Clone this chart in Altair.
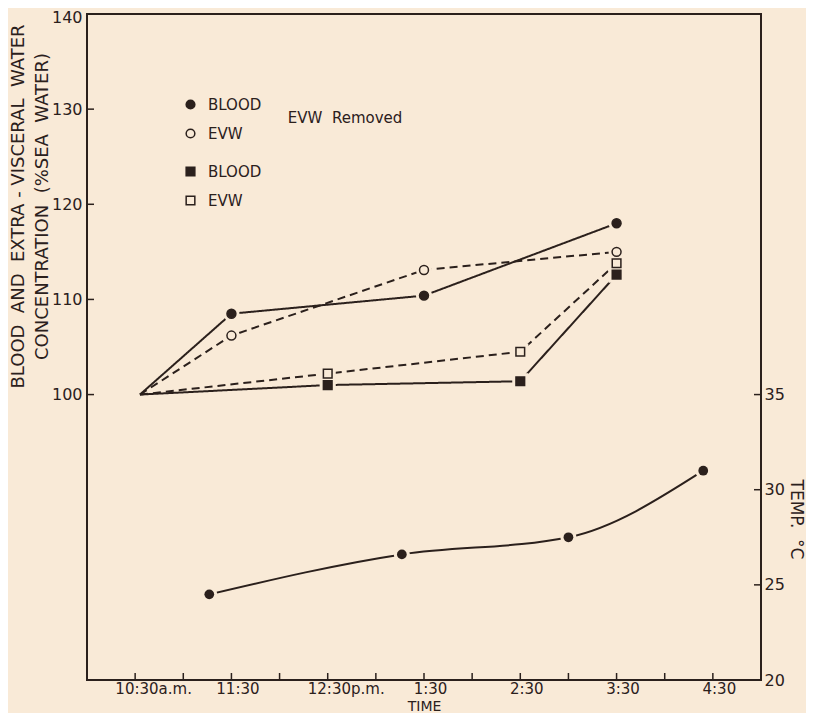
import altair as alt
import pandas as pd

INK = "#2b201c"
BG = "#f9ead7"
FONT = "DejaVu Sans"
SP = " \u00a0"  # widened word gap (plain spaces collapse in SVG)

# ---- data (time in decimal hours, 10.5 = 10:30 a.m.) ----
blood_t = [10.55, 11.5, 13.5, 15.5]
blood_v = [100.0, 108.5, 110.4, 118.0]
evw_t = [10.55, 11.5, 13.5, 15.5]
evw_v = [100.0, 106.2, 113.1, 115.0]
blood_rm_t = [10.55, 12.5, 14.5, 15.5]
blood_rm_v = [100.0, 101.0, 101.4, 112.6]
evw_rm_t = [10.55, 12.5, 14.5, 15.5]
evw_rm_v = [100.0, 102.2, 104.5, 113.8]
temp_t = [11.27, 13.27, 15.0, 16.4]
temp_v = [24.5, 26.6, 27.5, 31.0]

x_tick_values = [10.5, 11.0, 11.5, 12.0, 12.5, 13.0, 13.5, 14.0, 14.5, 15.0, 15.5, 16.0, 16.5]
x_label_values = [10.5, 11.5, 12.5, 13.5, 14.5, 15.5, 16.5]
x_label_texts = ["10:30a.m.", "11:30", "12:30p.m.", "1:30", "2:30", "3:30", "4:30"]
conc_ticks = [100, 110, 120, 130, 140]
temp_ticks = [20, 25, 30, 35]

annot_text = ["EVW" + SP + "Removed"]
annot_t = [12.68]
annot_v = [129.1]

# ---- tables ----
rows = []
for name, group, style, ts, vs in [
    ("BLOOD|i", "intact", "solid", blood_t, blood_v),
    ("EVW|i", "intact", "dashed", evw_t, evw_v),
    ("BLOOD|r", "removed", "solid", blood_rm_t, blood_rm_v),
    ("EVW|r", "removed", "dashed", evw_rm_t, evw_rm_v),
]:
    for i, (t, v) in enumerate(zip(ts, vs)):
        rows.append({"t": t, "v": v, "series": name, "group": group,
                     "style": style, "marker": i > 0,
                     "shape": "circle" if group == "intact" else "square"})
conc = pd.DataFrame(rows)
temp = pd.DataFrame({"t": temp_t, "v": temp_v})
xt = pd.DataFrame({"t": x_tick_values})
ct = pd.DataFrame({"v": conc_ticks})
tt = pd.DataFrame({"v": temp_ticks})
ann = pd.DataFrame({"t": annot_t, "v": annot_v, "text": annot_text})

label_expr = " : ".join(
    f"datum.value == {v} ? '{s}'" for v, s in zip(x_label_values, x_label_texts)
) + " : ''"

xscale = alt.Scale(domain=[10, 17], nice=False, zero=False)
xaxis = alt.Axis(
    values=x_label_values, labelExpr=label_expr, ticks=False, domain=False, grid=False,
    labelFont=FONT, labelFontSize=15, labelColor=INK, labelPadding=1,
    labelOffset={"condition": {"test": "datum.value == 10.5 || datum.value == 12.5", "value": 18}, "value": 6},
    title="TIME", titleFont=FONT, titleFontSize=14, titleFontWeight="normal",
    titleColor=INK, titleY=19, titleBaseline="top",
)
X = alt.X("t:Q", scale=xscale, axis=xaxis)

cscale = alt.Scale(domain=[70, 140], nice=False, zero=False)
caxis = alt.Axis(
    values=conc_ticks, ticks=False, domain=False, grid=False,
    labelFont=FONT, labelFontSize=16, labelColor=INK, labelPadding=5,
    labelOffset={"condition": {"test": "datum.value == 140", "value": 3}, "value": 0},
    title=["BLOOD" + SP + "AND" + SP + "EXTRA - VISCERAL" + SP + "WATER",
           "CONCENTRATION" + SP + "(%SEA" + SP + "WATER)"],
    titleFont=FONT, titleFontSize=18, titleFontWeight="normal", titleColor=INK,
    titleAngle=270, titleX=-69, titleY=192, titleAlign="center", titleBaseline="middle",
    titleLineHeight=24,
)
YC = alt.Y("v:Q", scale=cscale, axis=caxis)

tscale = alt.Scale(domain=[20, 55], nice=False, zero=False)
taxis = alt.Axis(
    orient="right", values=temp_ticks, ticks=False, domain=False, grid=False,
    labelFont=FONT, labelFontSize=16, labelColor=INK, labelPadding=3,
    title="TEMP." + SP + "°C", titleFont=FONT, titleFontSize=17, titleFontWeight="normal",
    titleColor=INK, titleAngle=90, titleX=34, titleY=505, titleAlign="center",
    titleBaseline="middle",
)
YT = alt.Y("v:Q", scale=tscale, axis=taxis)

base = alt.Chart(conc)

lines = base.mark_line(color=INK, strokeWidth=2).encode(
    x=X, y=YC, detail="series:N",
    strokeDash=alt.StrokeDash("style:N", scale=alt.Scale(domain=["solid", "dashed"], range=[[1, 0], [8, 5]]), legend=None),
)

halo = base.transform_filter("datum.marker").mark_point(
    filled=True, fill=BG, stroke=BG, strokeWidth=0, opacity=1, size=260
).encode(
    x=X, y=YC,
    shape=alt.Shape("shape:N", scale=alt.Scale(domain=["circle", "square"], range=["circle", "square"]), legend=None),
)

leg_common = dict(
    orient="none", title=None, padding=0, labelFont=FONT, labelFontSize=15,
    labelColor=INK, labelOffset=10, rowPadding=13, symbolStrokeColor=INK,
    symbolStrokeWidth=1.5, symbolSize=75, labelExpr="split(datum.label, '|')[0]",
)

circles = base.transform_filter("datum.marker && datum.group == 'intact'").mark_point(
    shape="circle", size=80, stroke=INK, strokeWidth=1.5, opacity=1
).encode(
    x=X, y=YC,
    fill=alt.Fill("series:N", scale=alt.Scale(domain=["BLOOD|i", "EVW|i"], range=[INK, BG]),
                  legend=alt.Legend(symbolType="circle", legendX=96, legendY=83, **leg_common)),
)

squares = base.transform_filter("datum.marker && datum.group == 'removed'").mark_point(
    shape="square", size=75, stroke=INK, strokeWidth=1.5, opacity=1
).encode(
    x=X, y=YC,
    fill=alt.Fill("series:N", scale=alt.Scale(domain=["BLOOD|r", "EVW|r"], range=[INK, BG]),
                  legend=alt.Legend(symbolType="square", legendX=96, legendY=150, **leg_common)),
)

annot = alt.Chart(ann).mark_text(font=FONT, fontSize=15, color=INK, align="center", baseline="middle").encode(
    x=X, y=YC, text="text:N"
)

x_tick_marks = alt.Chart(xt).mark_rule(color=INK, strokeWidth=1.5).encode(
    x=X, y=alt.value(659), y2=alt.value(666)
)
c_tick_marks = alt.Chart(ct).mark_rule(color=INK, strokeWidth=1.5).encode(
    y=YC, x=alt.value(0), x2=alt.value(7)
)

conc_layer = alt.layer(lines, halo, circles, squares, annot, x_tick_marks, c_tick_marks).resolve_scale(
    fill="independent"
)

tbase = alt.Chart(temp)
t_line = tbase.mark_line(color=INK, strokeWidth=2, interpolate="monotone").encode(x=X, y=YT)
t_halo = tbase.mark_point(shape="circle", filled=True, fill=BG, strokeWidth=0, opacity=1, size=260).encode(x=X, y=YT)
t_pts = tbase.mark_point(shape="circle", filled=True, fill=INK, strokeWidth=0, opacity=1, size=95).encode(x=X, y=YT)
t_tick_marks = alt.Chart(tt).mark_rule(color=INK, strokeWidth=1.5).encode(
    y=YT, x=alt.value(667), x2=alt.value(674)
)
temp_layer = alt.layer(t_line, t_halo, t_pts, t_tick_marks)

chart = alt.layer(conc_layer, temp_layer).resolve_scale(y="independent").properties(
    width=674, height=666,
    autosize=alt.AutoSizeParams(type="none"),
    padding={"left": 79, "top": 6, "right": 45, "bottom": 33},
    background=BG,
).configure_view(stroke=INK, strokeWidth=2)

chart.save("out.html", embed_options={"renderer": "svg", "actions": False})
